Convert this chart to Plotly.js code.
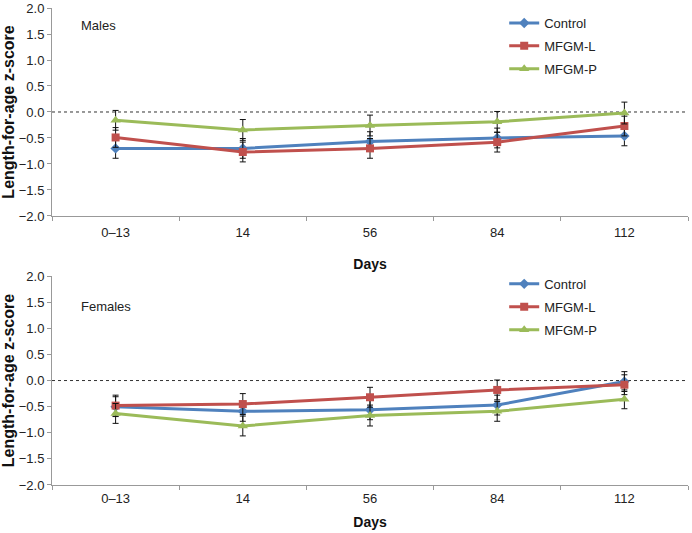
<!DOCTYPE html>
<html><head><meta charset="utf-8">
<script src="https://cdn.plot.ly/plotly-3.0.1.min.js"></script>
<style>body{margin:0;background:#fff}</style>
</head><body><div id="chart" style="width:692px;height:533px"></div>
<script>
const days = ["0–13", "14", "56", "84", "112"];
const seriesNames = ["Control", "MFGM-L", "MFGM-P"];
// Males
const malesControl = [-0.70, -0.70, -0.57, -0.50, -0.46];
const malesL = [-0.49, -0.77, -0.70, -0.58, -0.27];
const malesP = [-0.16, -0.345, -0.26, -0.19, -0.02];
const malesErrControl = [0.19, 0.19, 0.19, 0.19, 0.19];
const malesErrL = [0.19, 0.19, 0.19, 0.19, 0.19];
const malesErrP = [0.19, 0.20, 0.20, 0.20, 0.21];
// Females
const femalesControl = [-0.50, -0.59, -0.56, -0.47, -0.02];
const femalesL = [-0.48, -0.45, -0.32, -0.18, -0.08];
const femalesP = [-0.63, -0.87, -0.67, -0.59, -0.36];
const femalesErrControl = [0.19, 0.19, 0.19, 0.19, 0.19];
const femalesErrL = [0.20, 0.20, 0.19, 0.19, 0.19];
const femalesErrP = [0.19, 0.19, 0.20, 0.19, 0.18];

const colors = ["#4F81BD", "#C0504D", "#9BBB59"];
const symbols = ["diamond", "square", "triangle-up"];
const msizes = [8, 8, 9];

function mk(i, y, err, xa, ya, leg) {
  return {
    x: days, y: y, name: seriesNames[i], type: "scatter", mode: "lines+markers",
    xaxis: xa, yaxis: ya, legend: leg, legendgroup: leg + i,
    line: {color: colors[i], width: 3},
    marker: {color: colors[i], symbol: symbols[i], size: msizes[i]},
    error_y: {type: "data", array: err, visible: true, color: "#111", thickness: 1, width: 3}
  };
}
const data = [
  mk(0, malesControl, malesErrControl, "x", "y", "legend"),
  mk(1, malesL, malesErrL, "x", "y", "legend"),
  mk(2, malesP, malesErrP, "x", "y", "legend"),
  mk(0, femalesControl, femalesErrControl, "x2", "y2", "legend2"),
  mk(1, femalesL, femalesErrL, "x2", "y2", "legend2"),
  mk(2, femalesP, femalesErrP, "x2", "y2", "legend2")
];

const fam = "Liberation Sans, Arial, sans-serif";
const font = {family: fam, size: 13, color: "#222"};
function yax(domain) {
  return {domain: domain, range: [-2.0001, 2.0001], tickvals: [-2, -1.5, -1, -0.5, 0, 0.5, 1, 1.5, 2],
    tickformat: ".1f", showgrid: false, zeroline: false, ticklabeloverflow: "allow",
    showline: true, linecolor: "#999", linewidth: 1, ticks: "outside", ticklen: 4, tickcolor: "#999",
    tickfont: {size: 13, color: "#222", family: fam},
    title: {text: "Length-for-age z-score", font: {size: 16, color: "#111", family: fam, weight: "bold"}, standoff: 6}};
}
function xax(anchor, lstand, tstand) {
  return {anchor: anchor, type: "category", range: [-0.5, 4.5], showgrid: false, zeroline: false, showline: true, linecolor: "#999",
    ticks: "outside", ticklen: 4, tickcolor: "#999", tickson: "boundaries", ticklabelstandoff: lstand,
    tickfont: {size: 13, color: "#222", family: fam},
    title: {text: "Days", font: {size: 14, color: "#111", family: fam, weight: "bold"}, standoff: tstand}};
}
const legendBase = {xanchor: "left", yanchor: "top", font: {size: 13, color: "#222", family: fam},
  bgcolor: "rgba(0,0,0,0)", itemwidth: 30, tracegroupgap: 3};
const layout = {
  width: 692, height: 533, font: font,
  paper_bgcolor: "#fff", plot_bgcolor: "#fff",
  margin: {l: 52, r: 4, t: 8, b: 48},
  xaxis: xax("y", 4, 20), yaxis: yax([0.564, 1]),
  xaxis2: xax("y2", 1, 12), yaxis2: yax([0, 0.438]),
  legend: Object.assign({x: 0.711, y: 1}, legendBase),
  legend2: Object.assign({x: 0.711, y: 0.453}, legendBase),
  shapes: [
    {type: "line", xref: "x domain", yref: "y", x0: 0, x1: 1, y0: 0, y1: 0, line: {color: "#333", width: 1, dash: "dot"}, layer: "below"},
    {type: "line", xref: "x2 domain", yref: "y2", x0: 0, x1: 1, y0: 0, y1: 0, line: {color: "#333", width: 1, dash: "dot"}, layer: "below"}
  ],
  annotations: [
    {text: "Males", xref: "paper", yref: "paper", x: 0.043, y: 0.964, xanchor: "left", yanchor: "middle", showarrow: false, font: {size: 13, color: "#222", family: fam}},
    {text: "Females", xref: "paper", yref: "paper", x: 0.043, y: 0.375, xanchor: "left", yanchor: "middle", showarrow: false, font: {size: 13, color: "#222", family: fam}}
  ],
  showlegend: true
};
Plotly.newPlot("chart", data, layout, {displayModeBar: false});
</script></body></html>
